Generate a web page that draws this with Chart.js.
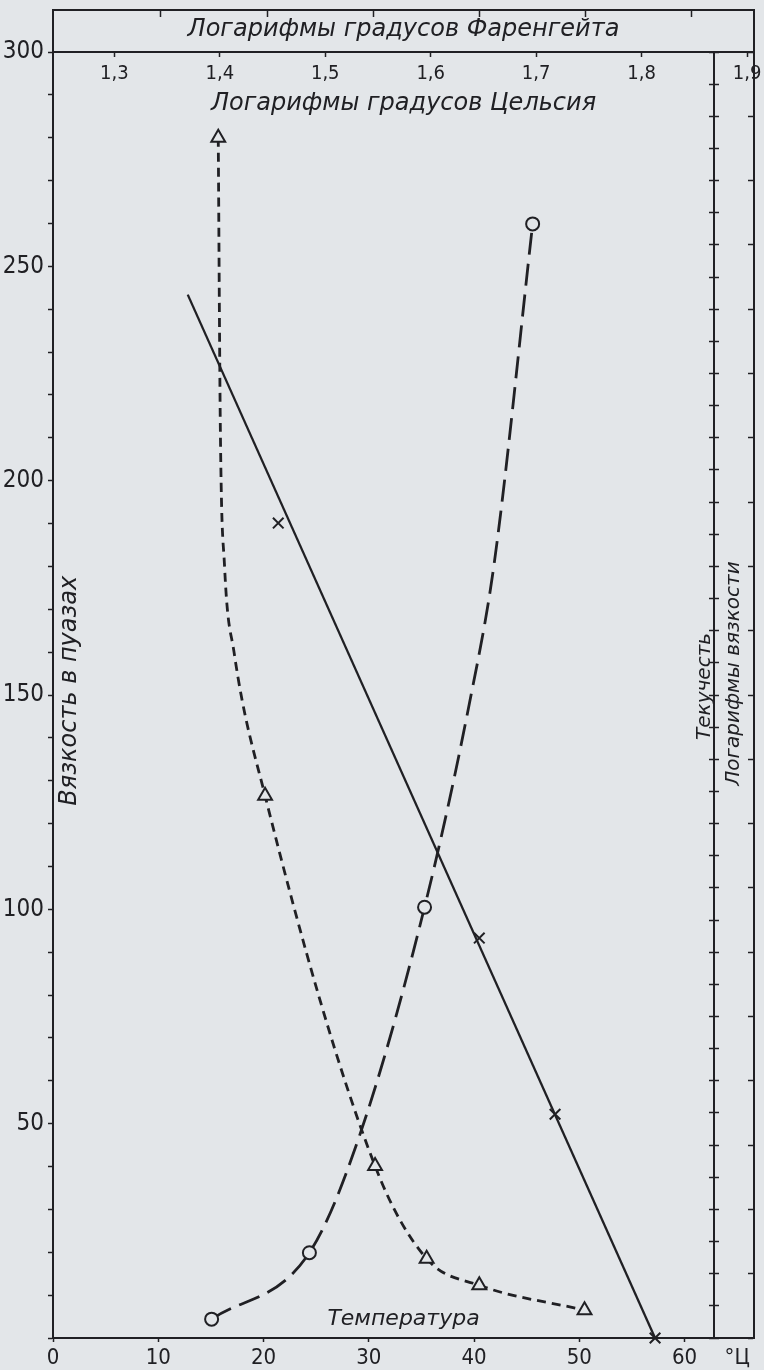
<!DOCTYPE html>
<html lang="ru">
<head>
<meta charset="utf-8">
<title>Вязкость и текучесть</title>
<script src="https://cdn.jsdelivr.net/npm/chart.js@4/dist/chart.umd.min.js"></script>
<style>
  html, body { margin: 0; padding: 0; background: #e3e6e9; }
  #wrap { width: 764px; height: 1370px; }
</style>
</head>
<body>
<div id="wrap"><canvas id="viscChart" width="764" height="1370"></canvas></div>
<script>
// ==========================================
// ДАННЫЕ
// ==========================================
// вязкость в пуазах, треугольники; 1 = точка с маркером, 0 = точка изгиба кривой
const viscTemp   = [15.7, 15.9, 16.3, 17.2, 20.15, 30.6, 35.5, 40.5, 50.5];
const viscVal    = [280, 212, 180, 160, 126.5, 40.1, 18.5, 12.3, 6.5];
const viscMarked = [1, 0, 0, 0, 1, 1, 1, 1, 1];

// текучесть, кружки
const fluidTemp   = [15.07, 24.36, 29.07, 35.3, 39.55, 41.9, 45.57];
const fluidVal    = [4.4, 19.9, 46.8, 100.5, 147.9, 180.4, 259.9];
const fluidMarked = [1, 1, 0, 1, 0, 0, 1];

// логарифмы вязкости: прямая и крестики
const logLineTemp = [12.8, 57.2];
const logLineVal  = [243.4, 0];
const crossTemp   = [21.4, 40.5, 47.7, 57.2];
const crossVal    = [190.1, 93.3, 52.2, 0];

// подписи шкал
const tempTicks       = [0, 10, 20, 30, 40, 50, 60];
const tempUnitLabel   = '°Ц';
const viscLabelTicks  = [50, 100, 150, 200, 250, 300];
const celsiusLogTicks = [1.3, 1.4, 1.5, 1.6, 1.7, 1.8, 1.9];
const fahrLogTicks    = [1.6, 1.7, 1.8, 1.9, 2.0, 2.1];

// ==========================================
// ОФОРМЛЕНИЕ
// ==========================================
const ink = '#202024';
const paper = '#e3e6e9';
const narrow = "'Liberation Sans Narrow', 'DejaVu Sans Condensed', sans-serif";
const italicFamily = "'DejaVu Sans', sans-serif";

const yTop = 309.8;        // верхняя рамка над отметкой 300
const xRight = 66.6;       // правая рамка
const fluidAxisAt = 62.8;  // линия шкалы текучести
const fluidTickShift = 0.47; // сдвиг, чтобы засечки шли в обе стороны от линии
const unitLabelAt = 65;    // где стоит «°Ц»

const verticalTitles = [
  { text: 'Вязкость в пуазах', at: [1.6, 151], size: 24 },
  { text: 'Текучесть', at: [61.9, 152], size: 20 },
  { text: 'Логарифмы вязкости', at: [64.7, 155], size: 20 }
];

const toPoints = (xs, ys) => xs.map((v, i) => ({ x: v, y: ys[i] }));
const tickList = (values) => values.map(v => ({ value: v }));
const fluidTicks = Array.from({ length: 41 }, (_, i) => i * 7.5);

// подписи осей стоят внутри поля графика, отступы под метки не нужны
function flatFit(axis) {
  axis.paddingLeft = 0;
  axis.paddingRight = 0;
  axis.paddingTop = 0;
  axis.paddingBottom = 0;
}

const sideTitles = {
  id: 'sideTitles',
  afterLayout(chart) {
    // линия текучести идёт от 300 вниз, а не от верхней рамки
    const top = chart.scales.y.getPixelForValue(300);
    ['yFluid', 'yFluidTicks'].forEach(id => {
      const s = chart.scales[id];
      s.top = top;
      s.height = s.bottom - s.top;
      s.configure();
    });
  },
  afterDraw(chart) {
    const { ctx, scales: { x, y } } = chart;
    verticalTitles.forEach(t => {
      ctx.save();
      ctx.translate(x.getPixelForValue(t.at[0]), y.getPixelForValue(t.at[1]));
      ctx.rotate(-Math.PI / 2);
      ctx.font = `italic ${t.size}px ${italicFamily}`;
      ctx.fillStyle = ink;
      ctx.textAlign = 'center';
      ctx.textBaseline = 'middle';
      ctx.fillText(t.text, 0, 0);
      ctx.restore();
    });
  }
};

new Chart(document.getElementById('viscChart'), {
  type: 'scatter',
  data: {
    datasets: [
      {
        data: toPoints(viscTemp, viscVal),
        showLine: true,
        borderColor: ink,
        borderWidth: 2.8,
        borderDash: [9, 6],
        cubicInterpolationMode: 'monotone',
        pointStyle: 'triangle',
        pointRadius: ctx => viscMarked[ctx.dataIndex] ? 8 : 0,
        pointBorderColor: ink,
        pointBackgroundColor: paper,
        pointBorderWidth: 2,
        clip: false
      },
      {
        data: toPoints(fluidTemp, fluidVal),
        showLine: true,
        borderColor: ink,
        borderWidth: 2.8,
        borderDash: [22, 9],
        cubicInterpolationMode: 'monotone',
        pointStyle: 'circle',
        pointRadius: ctx => fluidMarked[ctx.dataIndex] ? 6.5 : 0,
        pointBorderColor: ink,
        pointBackgroundColor: paper,
        pointBorderWidth: 2,
        clip: false
      },
      {
        data: toPoints(logLineTemp, logLineVal),
        showLine: true,
        borderColor: ink,
        borderWidth: 2.3,
        pointRadius: 0,
        clip: false
      },
      {
        data: toPoints(crossTemp, crossVal),
        showLine: false,
        pointStyle: 'crossRot',
        pointRadius: 7.5,
        pointBorderColor: ink,
        pointBorderWidth: 2,
        clip: false
      }
    ]
  },
  options: {
    responsive: false,
    animation: false,
    devicePixelRatio: 1,
    layout: { padding: { top: 2, right: 3, left: 0, bottom: 0 } },
    plugins: { legend: { display: false }, tooltip: { enabled: false } },
    scales: {
      x: {
        type: 'linear', position: 'bottom', min: 0, max: xRight,
        afterBuildTicks: a => { a.ticks = tickList(tempTicks.concat([unitLabelAt])); },
        afterFit: a => { flatFit(a); a.height = 32; },
        ticks: {
          autoSkip: false, maxRotation: 0, color: ink, padding: 3,
          font: { family: narrow, size: 22 },
          callback: v => v === unitLabelAt ? tempUnitLabel : v
        },
        grid: {
          drawOnChartArea: false, tickLength: 4, tickWidth: 1.5,
          tickColor: c => (c.tick && c.tick.value === unitLabelAt) ? 'rgba(0,0,0,0)' : ink
        },
        border: { color: ink, width: 2 }
      },
      y: {
        type: 'linear', position: 'left', min: 0, max: yTop,
        afterBuildTicks: a => { a.ticks = tickList(Array.from({ length: 31 }, (_, i) => i * 10)); },
        afterFit: a => { flatFit(a); a.width = 53; },
        ticks: {
          autoSkip: false, color: ink, padding: 4,
          font: { family: narrow, size: 24 },
          callback: v => viscLabelTicks.includes(v) ? v : ''
        },
        grid: { drawOnChartArea: false, tickLength: 5, tickWidth: 1.5, tickColor: ink },
        border: { color: ink, width: 2 }
      },
      yFluid: {
        axis: 'y', type: 'linear', position: { x: fluidAxisAt }, min: 0, max: 300,
        afterFit: flatFit,
        ticks: { display: false },
        grid: { drawOnChartArea: false, drawTicks: false },
        border: { color: ink, width: 2 }
      },
      yFluidTicks: {
        axis: 'y', type: 'linear', position: { x: fluidAxisAt + fluidTickShift }, min: 0, max: 300,
        afterBuildTicks: a => { a.ticks = tickList(fluidTicks); },
        afterFit: flatFit,
        ticks: { display: false },
        grid: { drawOnChartArea: false, tickLength: 10, tickWidth: 1.5, tickColor: ink },
        border: { display: false }
      },
      yLog: {
        axis: 'y', type: 'linear', position: { x: xRight }, min: 0, max: yTop,
        afterBuildTicks: a => { a.ticks = tickList(Array.from({ length: 21 }, (_, i) => i * 15)); },
        afterFit: flatFit,
        ticks: { display: false },
        grid: { drawOnChartArea: false, tickLength: 5, tickWidth: 1.5, tickColor: ink },
        border: { color: ink, width: 2 }
      },
      xC: {
        axis: 'x', type: 'linear', position: { y: 300 }, min: 1.2418, max: 1.9066,
        afterBuildTicks: a => { a.ticks = tickList(celsiusLogTicks); },
        afterFit: flatFit,
        ticks: {
          autoSkip: false, maxRotation: 0, color: ink, padding: 6,
          font: { family: narrow, size: 20 },
          callback: v => v.toFixed(1).replace('.', ',')
        },
        grid: { drawOnChartArea: false, tickLength: 4, tickWidth: 1.5, tickColor: ink },
        border: { color: ink, width: 2 },
        title: {
          display: true, text: 'Логарифмы градусов Цельсия', color: ink,
          font: { family: italicFamily, style: 'italic', size: 24, lineHeight: 1 },
          padding: { top: 0, bottom: 0 }
        }
      },
      xF: {
        axis: 'x', type: 'linear', position: { y: yTop }, min: 1.4983, max: 2.1588,
        afterBuildTicks: a => { a.ticks = tickList(fahrLogTicks); },
        afterFit: flatFit,
        ticks: { display: false },
        grid: { drawOnChartArea: false, tickLength: 6, tickWidth: 1.5, tickColor: ink },
        border: { color: ink, width: 2 },
        title: {
          display: true, text: 'Логарифмы градусов Фаренгейта', color: ink,
          font: { family: italicFamily, style: 'italic', size: 24, lineHeight: 1 },
          padding: { top: 2, bottom: 0 }
        }
      },
      xTemp: {
        axis: 'x', type: 'linear', position: { y: 7 }, min: 0, max: xRight,
        afterFit: flatFit,
        ticks: { display: false },
        grid: { display: false, drawOnChartArea: false, drawTicks: false },
        border: { display: false },
        title: {
          display: true, text: 'Температура', color: ink,
          font: { family: italicFamily, style: 'italic', size: 22, lineHeight: 1 },
          padding: 0
        }
      }
    }
  },
  plugins: [sideTitles]
});
</script>
</body>
</html>
